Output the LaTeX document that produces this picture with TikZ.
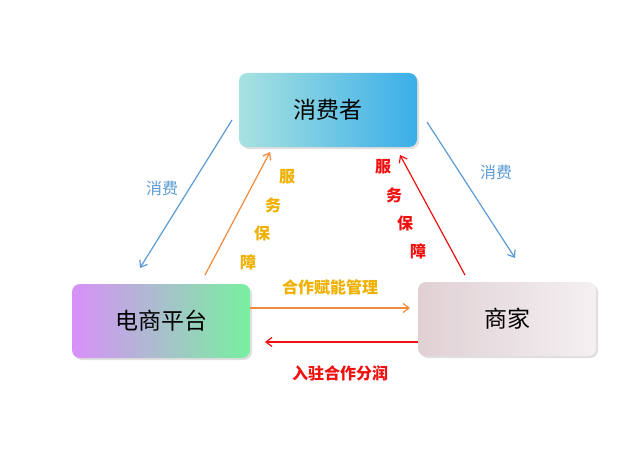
\documentclass[tikz,border=0pt]{standalone}
\usepackage{fontspec}
\setmainfont{Noto Sans CJK SC}
\usetikzlibrary{arrows.meta,shadows}
\begin{document}
\begin{tikzpicture}[x=1pt,y=-1pt,
  box/.style={rounded corners=8pt,minimum width=178pt,minimum height=74pt,font=\fontsize{23}{25}\selectfont,drop shadow={opacity=0.25,shadow xshift=2pt,shadow yshift=-2pt}},
  arr/.style={-{Straight Barb[length=6pt,width=9pt]},line width=1.2pt},
  lab/.style={font=\fontsize{16}{18}\selectfont\bfseries},
  vch/.style={font=\fontsize{16}{18}\selectfont\bfseries}]
\definecolor{bl}{HTML}{5B9BD5}
\definecolor{orr}{HTML}{F08A3C}
\definecolor{yl}{HTML}{F0B000}
\definecolor{rd}{HTML}{F01010}
\definecolor{c1}{HTML}{A8E2E0}
\definecolor{c2}{HTML}{3AAEE8}
\definecolor{p1}{HTML}{D890F8}
\definecolor{p2}{HTML}{80B8F0}
\definecolor{p3}{HTML}{78F0A0}
\definecolor{m1}{HTML}{E0D0D4}
\definecolor{m2}{HTML}{F4F0F2}
\useasboundingbox[fill=white] (0,0) rectangle (640,460);
\node[box,left color=c1,right color=c2] (c) at (328,110) {消费者};
\node[box,left color=p1,middle color=p2,right color=p3] (p) at (161,321) {电商平台};
\node[box,left color=m1,right color=m2] (m) at (507,319) {商家};
\draw[arr,bl] (232,120) -- (140,268);
\draw[arr,bl] (427,122) -- (515,258);
\node[bl,font=\fontsize{16}{18}\selectfont] at (162,188) {消费};
\node[bl,font=\fontsize{16}{18}\selectfont] at (496,172) {消费};
\draw[arr,orr] (205,275) -- (270,152);
\draw[arr,rd] (465,275) -- (400,155);
\node[vch,yl] at (287,177) {服};
\node[vch,yl] at (273,205) {务};
\node[vch,yl] at (262,233) {保};
\node[vch,yl] at (248,262) {障};
\node[vch,rd] at (383,167) {服};
\node[vch,rd] at (394,195) {务};
\node[vch,rd] at (405,223) {保};
\node[vch,rd] at (418,251) {障};
\draw[arr,orr] (p.east|-0,308) -- (410,308);
\node[lab,yl] at (330,287) {合作赋能管理};
\draw[arr,rd] (m.west|-0,342) -- (265,342);
\node[lab,rd] at (340,373) {入驻合作分润};
\end{tikzpicture}
\end{document}
